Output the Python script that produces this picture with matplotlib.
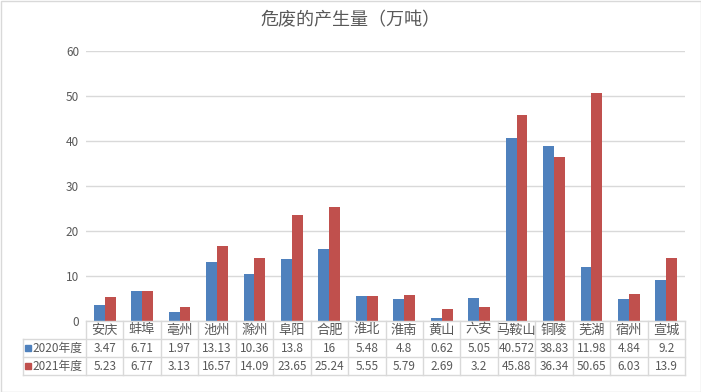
import numpy as np
import matplotlib
matplotlib.use('Agg')
import matplotlib.pyplot as plt
from matplotlib.lines import Line2D
from matplotlib.patches import Rectangle

plt.rcParams['font.family'] = ['Noto Sans CJK SC', 'DejaVu Sans']

cities = ['安庆', '蚌埠', '亳州', '池州', '滁州', '阜阳', '合肥', '淮北', '淮南',
          '黄山', '六安', '马鞍山', '铜陵', '芜湖', '宿州', '宣城']
y2020 = [3.47, 6.71, 1.97, 13.13, 10.36, 13.8, 16, 5.48, 4.8, 0.62, 5.05, 40.572,
         38.83, 11.98, 4.84, 9.2]
y2021 = [5.23, 6.77, 3.13, 16.57, 14.09, 23.65, 25.24, 5.55, 5.79, 2.69, 3.2, 45.88,
         36.34, 50.65, 6.03, 13.9]
labels2020 = ['3.47', '6.71', '1.97', '13.13', '10.36', '13.8', '16', '5.48', '4.8',
              '0.62', '5.05', '40.572', '38.83', '11.98', '4.84', '9.2']
labels2021 = ['5.23', '6.77', '3.13', '16.57', '14.09', '23.65', '25.24', '5.55',
              '5.79', '2.69', '3.2', '45.88', '36.34', '50.65', '6.03', '13.9']
series = ['2020年度', '2021年度']

W, H = 701, 392
blue = '#4F81BD'
red = '#C0504D'
grid = '#D9D9D9'
txt = '#595959'

fig = plt.figure(figsize=(W / 100, H / 100), dpi=100)
# frame around the whole chart
fig.add_artist(Rectangle((0.5 / W, 0.5 / H), 1 - 1 / W, 1 - 1 / H, transform=fig.transFigure,
                         fill=False, edgecolor='#D9D9D9', lw=1))

x0, x1, ytop, ybot = 86, 685, 51, 321
ax = fig.add_axes([x0 / W, 1 - ybot / H, (x1 - x0) / W, (ybot - ytop) / H])

x = np.arange(len(cities))
bw = 0.29
ax.bar(x - bw / 2, y2020, bw, color=blue)
ax.bar(x + bw / 2, y2021, bw, color=red)
ax.set_xlim(-0.5, len(cities) - 0.5)
ax.set_ylim(0, 60)
ax.set_yticks(range(0, 61, 10))
ax.yaxis.grid(True, color=grid, lw=1)
ax.set_axisbelow(True)
ax.set_xticks([])
ax.tick_params(axis='y', length=0, labelsize=8.5, labelcolor=txt, pad=5)
for s in ax.spines.values():
    s.set_visible(False)

fig.text(0.5, 1 - 20 / H, '危废的产生量（万吨）', ha='center', va='center',
         fontsize=13, color=txt)


# data table below the axis, drawn in pixel coordinates
def fx(px):
    return px / W


def fy(py):
    return 1 - py / H


cw = (x1 - x0) / len(cities)
rows = [321, 339, 357, 375]
lc = '#D9D9D9'
fig.add_artist(Line2D([fx(x0), fx(x1)], [fy(rows[0]), fy(rows[0])], color=lc, lw=1))
for r in rows[1:]:
    fig.add_artist(Line2D([fx(23), fx(x1)], [fy(r), fy(r)], color=lc, lw=1))
for i in range(len(cities) + 1):
    px = x0 + i * cw
    fig.add_artist(Line2D([fx(px), fx(px)], [fy(rows[0]), fy(rows[3])], color=lc, lw=1))
fig.add_artist(Line2D([fx(23), fx(23)], [fy(rows[1]), fy(rows[3])], color=lc, lw=1))

for i, c in enumerate(cities):
    cx = fx(x0 + (i + 0.5) * cw)
    fig.text(cx, fy((rows[0] + rows[1]) / 2), c, ha='center', va='center',
             fontsize=9.5, color=txt)
    fig.text(cx, fy((rows[1] + rows[2]) / 2), labels2020[i], ha='center', va='center',
             fontsize=8.5, color=txt)
    fig.text(cx, fy((rows[2] + rows[3]) / 2), labels2021[i], ha='center', va='center',
             fontsize=8.5, color=txt)

for k, (name, col) in enumerate(zip(series, [blue, red])):
    cy = (rows[k + 1] + rows[k + 2]) / 2
    fig.add_artist(Rectangle((fx(25), fy(cy + 3)), 6 / W, 6 / H, transform=fig.transFigure,
                             color=col))
    fig.text(fx(32), fy(cy), name, ha='left', va='center', fontsize=8.5, color=txt)

fig.savefig('out.png', dpi=100)
